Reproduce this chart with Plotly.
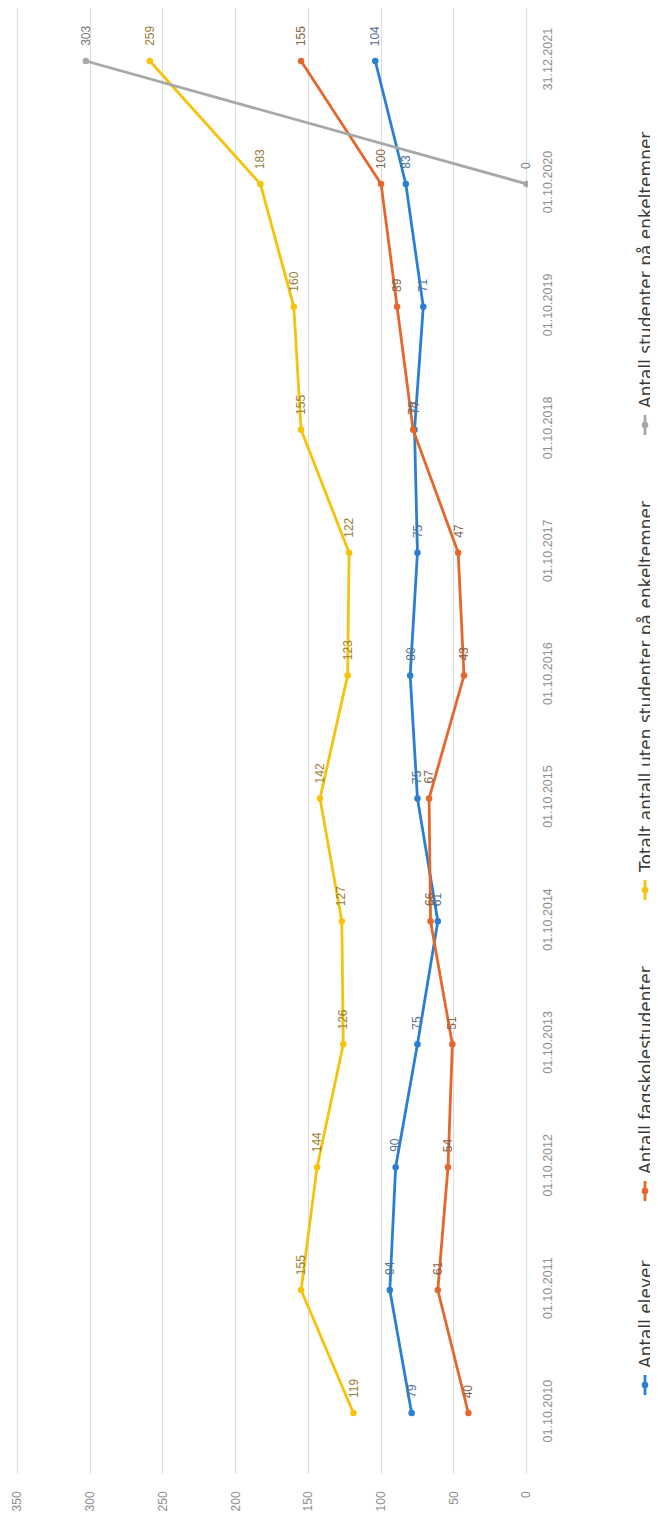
import plotly.graph_objects as go

# ---------------- data ----------------
dates = ["01.10.2010", "01.10.2011", "01.10.2012", "01.10.2013", "01.10.2014",
         "01.10.2015", "01.10.2016", "01.10.2017", "01.10.2018", "01.10.2019",
         "01.10.2020", "31.12.2021"]
antall_elever = [79, 94, 90, 75, 61, 75, 80, 75, 77, 71, 83, 104]
antall_fagskole = [40, 61, 54, 51, 66, 67, 43, 47, 78, 89, 100, 155]
totalt_uten_enkelt = [119, 155, 144, 126, 127, 142, 123, 122, 155, 160, 183, 259]
studenter_enkelt = [None, None, None, None, None, None, None, None, None, None, 0, 303]

value_ticks = [0, 50, 100, 150, 200, 250, 300, 350]

series_names = ["Antall elever", "Antall fagskolestudenter",
                "Totalt antall uten studenter på enkeltemner",
                "Antall studenter på enkeltemner"]
series_values = [antall_elever, antall_fagskole, totalt_uten_enkelt, studenter_enkelt]
series_colors = ["#2b7fd3", "#e4672b", "#f6c20a", "#a8a8a8"]
label_colors = ["#55708f", "#86624a", "#9a8035", "#7a7a7a"]

# ---------------- layout constants ----------------
# the page body adds an 8px margin, so the figure is 8px smaller and all
# reference pixel positions are shifted by that amount
OFF = 8
W, H = 658 - OFF, 1520 - OFF
ML, MR, MT, MB = 8, 130, 0, 46
PW, PH = W - ML - MR, H - MT - MB


def px_x(ref_px):
    return (ref_px - OFF - ML) / PW


def px_y(ref_py):
    return (H - MB - (ref_py - OFF)) / PH


FONT = "Liberation Sans, Arial, sans-serif"
LFONT = "DejaVu Sans, Liberation Sans, sans-serif"
cat_idx = list(range(len(dates)))

fig = go.Figure()
for name, vals, col in zip(series_names, series_values, series_colors):
    fig.add_trace(go.Scatter(
        x=vals, y=cat_idx, mode="lines+markers", name=name,
        line=dict(color=col, width=2.8),
        marker=dict(color=col, size=6.5),
        connectgaps=False, showlegend=False,
    ))

annotations = []
# data labels (rotated like the reference)
for vals, lc in zip(series_values, label_colors):
    for i, v in zip(cat_idx, vals):
        if v is None:
            continue
        annotations.append(dict(
            x=v, y=i, xref="x", yref="y", text=str(v), showarrow=False,
            textangle=-90, xanchor="center", yanchor="bottom", yshift=13,
            font=dict(family=FONT, size=12, color=lc),
        ))

# legend (drawn manually, rotated)
legend_pos = [1385, 1191, 890, 425]  # glyph centre (reference pixel y)
shapes = []
LX = 645  # reference pixel x of the legend column
for name, col, gy in zip(series_names, series_colors, legend_pos):
    shapes.append(dict(type="line", xref="paper", yref="paper",
                       x0=px_x(LX), x1=px_x(LX), y0=px_y(gy - 10), y1=px_y(gy + 10),
                       line=dict(color=col, width=2.8)))
    shapes.append(dict(type="circle", xref="paper", yref="paper",
                       x0=px_x(LX - 3.3), x1=px_x(LX + 3.3),
                       y0=px_y(gy - 3.3), y1=px_y(gy + 3.3),
                       fillcolor=col, line=dict(color=col, width=0)))
    annotations.append(dict(
        x=px_x(LX + 1), y=px_y(gy - 15), xref="paper", yref="paper",
        text=name, showarrow=False, textangle=-90,
        xanchor="center", yanchor="bottom",
        font=dict(family=LFONT, size=17, color="#3a3a3a"),
    ))

# category positions: 2021 at ref y 61, 2010 at ref y 1413
step = (1413 - 61) / 11
y_top = 11 + (61 - OFF - MT) / step
y_bot = -((H - MB) - (1413 - OFF)) / step

fig.update_layout(
    width=W, height=H,
    margin=dict(l=ML, r=MR, t=MT, b=MB, pad=0),
    paper_bgcolor="white", plot_bgcolor="white",
    showlegend=False,
    annotations=annotations,
    shapes=shapes,
    xaxis=dict(
        range=[351, -1], tickmode="array", tickvals=value_ticks,
        ticktext=[str(t) for t in value_ticks],
        tickangle=-90, showgrid=True, gridcolor="#dcdcdc", gridwidth=1,
        zeroline=False, showline=False, ticks="",
        ticklabelstandoff=14,
        tickfont=dict(family=FONT, size=12, color="#8e8e8e"),
    ),
    yaxis=dict(
        range=[y_bot, y_top], tickmode="array", tickvals=cat_idx, ticktext=dates,
        side="right", tickangle=-90, showgrid=False, zeroline=False,
        showline=False, ticks="", ticklabelstandoff=10,
        tickfont=dict(family=FONT, size=12.5, color="#8e8e8e"),
    ),
)

fig.write_html("out.html")
